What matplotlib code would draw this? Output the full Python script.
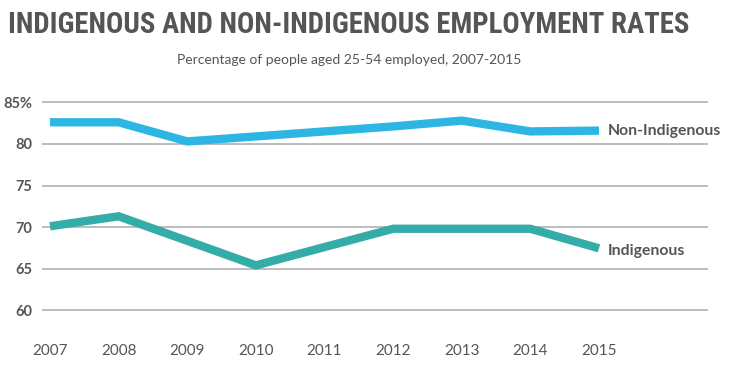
import matplotlib
matplotlib.use("Agg")
import matplotlib.pyplot as plt
from matplotlib import font_manager

years = [2007, 2008, 2009, 2010, 2011, 2012, 2013, 2014, 2015]
non_indigenous = [82.6, 82.6, 80.3, 80.9, 81.5, 82.1, 82.8, 81.5, 81.6]
indigenous = [70.1, 71.3, 68.35, 65.4, 67.6, 69.8, 69.8, 69.8, 67.45]
y_ticks = [60, 65, 70, 75, 80, 85]
y_labels = ["60", "65", "70", "75", "80", "85%"]
x_labels = ["2007", "2008", "2009", "2010", "2011", "2012", "2013", "2014", "2015"]

names = {f.name for f in font_manager.fontManager.ttflist}
title_font = "DejaVu Sans"
for cand in ["Liberation Sans Narrow", "Roboto Condensed", "Open Sans Condensed",
             "DejaVu Sans Condensed", "Noto Sans Condensed"]:
    if cand in names:
        title_font = cand
        break
body_font = "Lato" if "Lato" in names else "DejaVu Sans"

W, H = 754, 373
fig = plt.figure(figsize=(W / 100, H / 100), dpi=100)
ax = fig.add_axes([42 / W, (H - 330) / H, (708 - 42) / W, (330 - 90) / H])

c_non = "#2DB6E4"
c_ind = "#34ACA7"
txt = "#555558"

ax.plot(years, non_indigenous, color=c_non, lw=6, solid_capstyle="butt", solid_joinstyle="miter", zorder=3)
ax.plot(years, indigenous, color=c_ind, lw=6, solid_capstyle="butt", solid_joinstyle="miter", zorder=3)

px = (599 - 50) / 8  # pixels per year
ax.set_xlim(2007 - 8 / px, 2007 + 658 / px)
ax.set_ylim(57.63, 86.48)

ax.set_yticks(y_ticks)
ax.set_yticklabels(y_labels, fontsize=10.5, fontweight="bold", color=txt, family=body_font)
ax.yaxis.grid(True, color="#ABABAB", lw=1.1)
ax.set_axisbelow(True)

ax.set_xticks(years)
ax.set_xticklabels(x_labels, fontsize=11, color=txt, family=body_font)

ax.tick_params(axis="both", length=0)
ax.tick_params(axis="y", pad=7)
ax.tick_params(axis="x", pad=10)
for s in ax.spines.values():
    s.set_visible(False)

a1 = ax.annotate("Non-Indigenous", xy=(years[-1], non_indigenous[-1]), xytext=(6.5, 0),
                 textcoords="offset points", va="center", ha="left", family=body_font,
                 fontsize=10, fontweight="bold", color=txt)
a2 = ax.annotate("Indigenous", xy=(years[-1], indigenous[-1]), xytext=(6.5, -2),
                 textcoords="offset points", va="center", ha="left", family=body_font,
                 fontsize=10, fontweight="bold", color=txt)

title = fig.text(8 / W, 1 - 25 / H, "INDIGENOUS AND NON-INDIGENOUS EMPLOYMENT RATES",
                 family=title_font, fontweight="bold", fontsize=20, color="#555558",
                 ha="left", va="center")
sub = fig.text(349 / W, 1 - 60 / H, "Percentage of people aged 25-54 employed, 2007-2015",
               family=body_font, fontsize=9.5, color=txt, ha="center", va="center")

# fit text widths to the reference
r = fig.canvas.get_renderer()
for t, target in [(title, 681), (sub, 346), (a1, 113)]:
    w = t.get_window_extent(renderer=r).width
    t.set_fontsize(t.get_fontsize() * target / w)
a2.set_fontsize(a1.get_fontsize())

fig.savefig("out.png", dpi=100)
